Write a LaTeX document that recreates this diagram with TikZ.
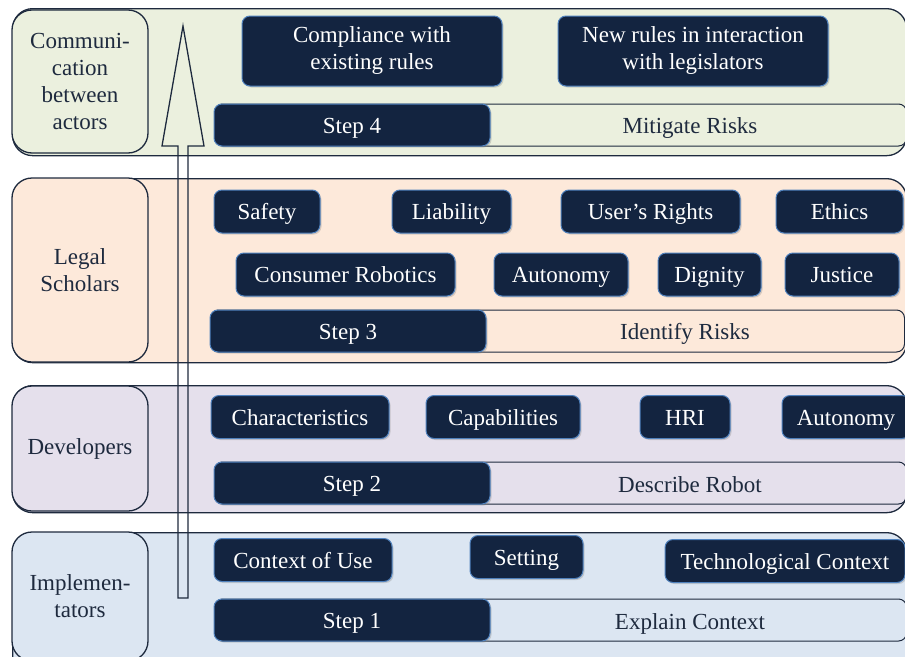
\documentclass[tikz,border=0pt]{standalone}
\usepackage{fontspec}
\setmainfont{Liberation Serif}
\usetikzlibrary{positioning}
\usetikzlibrary{shadows}

\definecolor{navybox}{RGB}{19,36,64}
\definecolor{boxedge}{RGB}{79,129,189}
\definecolor{bandedge}{RGB}{30,42,62}
\definecolor{greenband}{RGB}{235,240,222}
\definecolor{peachband}{RGB}{253,233,218}
\definecolor{lilacband}{RGB}{229,224,236}
\definecolor{blueband}{RGB}{220,230,242}

\tikzset{
    band/.style={draw=bandedge, line width=1.3pt, rounded corners=20pt, anchor=north west, inner sep=0pt, minimum width=894pt},
    actor/.style={draw=bandedge, line width=1.3pt, rounded corners=20pt, align=center, text=bandedge, minimum width=136pt, inner sep=0pt},
    item/.style={draw=boxedge, fill=navybox, text=white, line width=1pt, rounded corners=8pt, minimum height=43pt, inner sep=0pt, align=center,
        drop shadow={shadow xshift=1.5pt, shadow yshift=-1.5pt, opacity=0.3}},
    word/.style={item, text height=18pt, text depth=2pt},
    stepbox/.style={word, minimum width=276pt, minimum height=42pt},
    stepbar/.style={draw=bandedge, line width=1pt, rounded corners=8pt, anchor=west, minimum width=692pt, minimum height=42pt, inner sep=0pt},
    steptext/.style={text=bandedge, text height=18pt, text depth=2pt},
}

\begin{document}
\begin{tikzpicture}[x=1pt, y=-1pt, font=\fontsize{23}{27}\selectfont]
        \path[use as bounding box, clip] (0, 0) rectangle (905, 656);

        \node[band, fill=greenband, minimum height=147pt] (band4) at (12, 8) {};
        \node[band, fill=peachband, minimum height=184pt] (band3) at (12, 178) {};
        \node[band, fill=lilacband, minimum height=127pt] (band2) at (12, 385) {};
        \node[band, fill=blueband, minimum height=148pt] (band1) at (12, 532) {};

        \node[actor, fill=greenband, minimum height=143pt] (comm) at (80, 81.5) {Communi-\\cation\\between\\actors};
        \node[actor, fill=peachband, minimum height=184pt] (legal) at (80, 270) {Legal\\Scholars};
        \node[actor, fill=lilacband, minimum height=125pt] (devel) at (80, 448.5) {Developers};
        \node[actor, fill=blueband, minimum height=129pt] (implem) at (80, 596.5) {Implemen-\\tators};

        \node[item, minimum width=260pt, minimum height=70pt] (compliance) at (372, 51) {Compliance with\\existing rules};
        \node[item, minimum width=270pt, minimum height=70pt] (newrules) at (693, 51) {New rules in interaction\\with legislators};
        \node[stepbar] (bar4) at (214, 125) {};
        \node[stepbox] (step4) at (352, 125) {Step 4};
        \node[steptext] (mitigate) at (690, 125) {Mitigate Risks};

        \node[word, minimum width=106pt] (safety) at (267, 211.5) {Safety};
        \node[word, minimum width=119pt] (liability) at (451.5, 211.5) {Liability};
        \node[word, minimum width=179pt] (rights) at (650.5, 211.5) {User’s Rights};
        \node[word, minimum width=127pt] (ethics) at (839.5, 211.5) {Ethics};
        \node[word, minimum width=219pt] (consumer) at (345.5, 274.5) {Consumer Robotics};
        \node[word, minimum width=134pt] (autonomy3) at (561, 274.5) {Autonomy};
        \node[word, minimum width=103pt] (dignity) at (709.5, 274.5) {Dignity};
        \node[word, minimum width=114pt] (justice) at (842, 274.5) {Justice};
        \node[stepbar, minimum width=694pt] (bar3) at (210, 331) {};
        \node[stepbox] (step3) at (348, 331) {Step 3};
        \node[steptext] (identify) at (685, 331) {Identify Risks};

        \node[word, minimum width=178pt] (charac) at (300, 417) {Characteristics};
        \node[word, minimum width=154pt] (capab) at (503, 417) {Capabilities};
        \node[word, minimum width=90pt] (hri) at (685, 417) {HRI};
        \node[word, minimum width=128pt] (autonomy2) at (846, 417) {Autonomy};
        \node[stepbar] (bar2) at (214, 483) {};
        \node[stepbox] (step2) at (352, 483) {Step 2};
        \node[steptext] (describe) at (690, 484) {Describe Robot};

        \node[word, minimum width=178pt] (context) at (303, 560) {Context of Use};
        \node[word, minimum width=113pt] (setting) at (526.5, 557) {Setting};
        \node[word, minimum width=240pt] (techctx) at (785, 561) {Technological Context};
        \node[stepbar] (bar1) at (214, 620) {};
        \node[stepbox] (step1) at (352, 620) {Step 1};
        \node[steptext] (explain) at (690, 621) {Explain Context};

        \draw[draw=bandedge, line width=1.3pt] (178, 598) -- (178, 146) -- (162, 146) -- (183, 26)
            -- (204, 146) -- (188, 146) -- (188, 598) -- cycle;
    \end{tikzpicture}
\end{document}
